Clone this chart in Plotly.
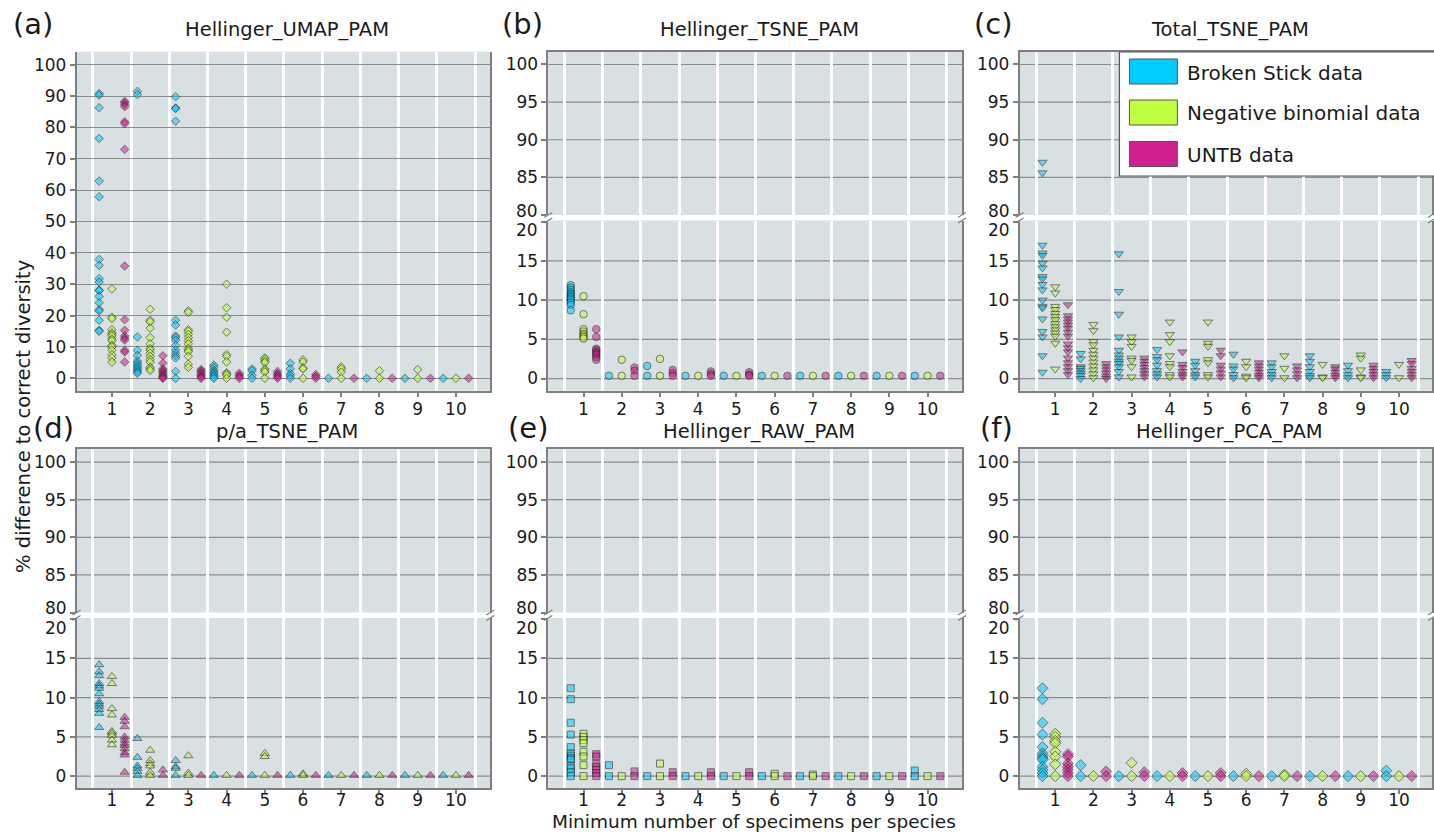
import plotly.graph_objects as go

# ---------------- data ----------------
categories = [1, 2, 3, 4, 5, 6, 7, 8, 9, 10]
series_names = ["Broken Stick data", "Negative binomial data", "UNTB data"]
series_colors = ["#00CCFF", "#BFFF3F", "#D02090"]
panel_titles = ["Hellinger_UMAP_PAM", "Hellinger_TSNE_PAM", "Total_TSNE_PAM",
                "p/a_TSNE_PAM", "Hellinger_RAW_PAM", "Hellinger_PCA_PAM"]
panel_tags = ["(a)", "(b)", "(c)", "(d)", "(e)", "(f)"]
ticks_full = [0, 10, 20, 30, 40, 50, 60, 70, 80, 90, 100]
ticks_upper = [80, 85, 90, 95, 100]
ticks_lower = [0, 5, 10, 15, 20]
grid_upper = [85, 90, 95, 100]
grid_lower = [0, 5, 10, 15]
x_title = "Minimum number of specimens per species"
y_title = "% difference to correct diversity"

# (a) Hellinger_UMAP_PAM
umap_bs = [[90.8, 90.3, 86.3, 76.5, 62.9, 57.9, 37.9, 36.0, 31.8, 30.7, 28.1, 28.0, 26.1, 24.1, 21.9, 21.5, 18.5, 15.3, 15.0],
           [91.5, 90.5, 13.2, 8.9, 7.3, 5.5, 4.8, 4.2, 3.6, 3.0, 2.5, 2.0, 1.6],
           [89.8, 86.2, 86.0, 82.0, 18.5, 17.0, 13.5, 13.0, 12.2, 10.5, 9.0, 8.0, 7.2, 6.5, 2.2, 0.0],
           [4.2, 3.5, 2.6, 2.0, 1.5, 1.0, 0.5, 0.0],
           [3.0, 2.4, 1.0, 0.0],
           [4.8, 3.0, 1.5, 0.8, 0.0],
           [0.0], [0.0], [0.0], [0.0]]
umap_nb = [[28.5, 19.5, 19.0, 15.5, 14.5, 14.0, 13.5, 12.5, 12.0, 10.5, 10.0, 9.0, 7.5, 6.5, 5.2],
           [22.0, 18.5, 18.0, 16.0, 13.0, 11.0, 9.5, 9.0, 8.0, 7.0, 6.0, 5.2, 3.5, 3.0, 2.5],
           [21.5, 21.0, 15.5, 15.0, 14.0, 13.0, 12.0, 11.0, 9.5, 9.0, 8.5, 7.0, 4.5, 3.5],
           [30.0, 22.5, 19.5, 14.7, 7.6, 7.0, 5.2, 1.8, 1.4, 1.0, 0.0],
           [6.5, 6.0, 5.4, 5.0, 3.0, 2.5, 2.0, 0.0],
           [5.9, 5.2, 3.3, 3.0, 0.0],
           [3.6, 3.0, 2.0, 0.0],
           [2.4, 0.0],
           [2.8, 0.0],
           [0.0]]
umap_untb = [[88.3, 87.8, 87.2, 86.6, 81.8, 81.2, 73.0, 35.8, 18.7, 15.3, 13.5, 12.8, 12.2, 8.9, 8.4, 5.2],
             [7.2, 4.8, 3.0, 2.5, 2.0, 1.5, 1.0, 0.6, 0.2, 0.0],
             [2.8, 2.3, 1.8, 1.3, 0.8, 0.4, 0.0],
             [1.6, 1.0, 0.5, 0.0],
             [2.2, 1.5, 1.0, 0.5, 0.0],
             [1.2, 0.6, 0.0],
             [0.0], [0.0], [0.0], [0.0]]

# (b) Hellinger_TSNE_PAM
tsne_bs = [[11.9, 11.6, 11.3, 11.0, 10.8, 10.6, 10.4, 10.2, 10.0, 9.7, 9.4, 8.7],
           [0.35], [1.6, 0.35], [0.35], [0.35], [0.35], [0.35], [0.35], [0.35], [0.35]]
tsne_nb = [[10.5, 8.2, 6.3, 6.0, 5.7, 5.5, 5.3, 5.1],
           [2.4, 0.35], [2.5, 0.35], [0.35], [0.35], [0.35], [0.35], [0.35], [0.35], [0.35]]
tsne_untb = [[6.3, 5.3, 3.8, 3.6, 3.4, 3.2, 3.0, 2.7, 2.4],
             [1.4, 1.0, 0.35], [1.1, 0.7, 0.35], [0.9, 0.6, 0.35], [0.8, 0.5, 0.35],
             [0.35], [0.35], [0.35], [0.35], [0.35]]

# (c) Total_TSNE_PAM
total_bs = [[87.0, 85.6, 17.0, 16.0, 15.7, 14.7, 14.1, 13.0, 12.7, 12.0, 11.3, 10.0, 9.2, 9.0, 7.6, 6.0, 5.3, 2.9, 0.8],
            [3.2, 2.5, 1.5, 1.3, 1.0, 0.7, 0.4, 0.0],
            [15.9, 11.1, 8.2, 5.3, 3.6, 3.0, 2.6, 2.2, 1.9, 1.5, 0.9, 0.2],
            [3.7, 2.8, 2.4, 1.7, 1.0, 0.6, 0.2],
            [2.2, 1.7, 1.0, 0.5, 0.2],
            [3.1, 1.6, 1.2, 0.5, 0.1],
            [2.0, 1.5, 0.9, 0.5, 0.1],
            [2.9, 2.2, 1.5, 0.9, 0.4, 0.1],
            [1.7, 1.0, 0.5, 0.1],
            [0.9, 0.5, 0.1]]
total_nb = [[11.7, 10.9, 9.2, 8.8, 8.3, 7.9, 7.5, 7.0, 6.6, 6.2, 5.8, 5.4, 4.5, 1.2],
            [6.9, 6.1, 4.7, 4.3, 3.6, 3.1, 2.6, 2.1, 1.6, 1.1, 0.6, 0.1],
            [5.3, 4.7, 4.1, 2.6, 2.3, 1.5, 0.2],
            [7.2, 5.6, 4.7, 2.9, 1.9, 1.5, 0.5, 0.2],
            [7.2, 4.5, 4.1, 2.4, 2.0, 0.5, 0.2],
            [2.2, 1.5, 0.3, 0.1],
            [2.9, 1.3, 0.1],
            [1.8, 0.2, 0.1],
            [3.0, 2.6, 1.1, 0.2, 0.1],
            [1.8, 0.1]]
total_untb = [[9.4, 8.0, 7.6, 7.2, 6.8, 6.4, 5.9, 5.4, 4.4, 3.9, 3.4, 2.6, 2.0, 1.5, 1.0, 0.5],
              [1.9, 1.5, 1.1, 0.7, 0.3, 0.0],
              [2.6, 2.2, 1.8, 1.4, 1.0, 0.6, 0.2],
              [3.4, 1.8, 1.4, 0.9, 0.5, 0.2],
              [3.6, 2.9, 1.7, 1.2, 0.7, 0.2],
              [2.0, 1.6, 1.2, 0.8, 0.4, 0.1],
              [1.6, 1.1, 0.6, 0.1],
              [1.5, 1.2, 0.8, 0.4, 0.1],
              [1.7, 1.3, 0.9, 0.5, 0.1],
              [2.3, 1.9, 1.3, 0.9, 0.5, 0.1]]

# (d) p/a_TSNE_PAM
pa_bs = [[14.2, 13.3, 12.8, 11.8, 11.5, 11.2, 10.5, 9.5, 9.2, 8.9, 8.5, 8.0, 6.2],
         [4.8, 2.4, 1.3, 1.0, 0.6, 0.1], [2.0, 1.2, 1.0, 0.1],
         [0.1], [0.1], [0.1], [0.1], [0.1], [0.1], [0.1]]
pa_nb = [[12.7, 11.8, 8.6, 7.8, 5.7, 5.5, 5.2, 4.6, 4.0],
         [3.3, 2.0, 1.6, 1.3, 0.5, 0.1], [2.6, 0.4, 0.1], [0.1], [2.9, 2.5, 0.1],
         [0.3, 0.1], [0.1], [0.1], [0.1], [0.1]]
pa_untb = [[7.5, 7.0, 6.3, 5.0, 4.6, 4.2, 3.9, 3.5, 3.0, 2.7, 0.5],
           [0.8, 0.1], [0.1], [0.1], [0.1], [0.1], [0.1], [0.1], [0.1], [0.1]]

# (e) Hellinger_RAW_PAM
raw_bs = [[11.2, 9.8, 6.8, 5.3, 3.7, 2.9, 2.6, 2.3, 2.1, 1.3, 1.0, 0.5, 0.0],
          [1.4, 0.0], [0.0], [0.0], [0.0], [0.0], [0.0], [0.0], [0.0], [0.7, 0.0]]
raw_nb = [[5.4, 5.0, 4.6, 4.2, 3.1, 2.5, 1.4, 0.0],
          [0.0], [1.6, 0.0], [0.0], [0.0], [0.3, 0.0], [0.2, 0.0], [0.0], [0.0], [0.0]]
raw_untb = [[2.8, 2.5, 1.6, 1.2, 0.8, 0.4, 0.0],
            [0.6, 0.0], [0.5, 0.0], [0.5, 0.0], [0.5, 0.0], [0.0], [0.0], [0.0], [0.0], [0.0]]

# (f) Hellinger_PCA_PAM
pca_bs = [[11.2, 9.8, 6.8, 5.3, 3.7, 2.9, 2.6, 2.3, 2.1, 1.2, 0.8, 0.4, 0.0],
          [1.4, 0.0], [0.0], [0.0], [0.0], [0.0], [0.0], [0.0], [0.0], [0.7, 0.0]]
pca_nb = [[5.4, 5.0, 4.5, 4.2, 3.1, 2.5, 1.5, 0.0],
          [0.0], [1.7, 0.0], [0.0], [0.0], [0.3, 0.0], [0.2, 0.0], [0.0], [0.0], [0.0]]
pca_untb = [[2.8, 2.5, 1.6, 1.2, 0.8, 0.4, 0.0],
            [0.6, 0.0], [0.5, 0.0], [0.4, 0.0], [0.4, 0.0], [0.0], [0.0], [0.0], [0.0], [0.0]]

# ---------------- styling / geometry ----------------
panels = [(umap_bs, umap_nb, umap_untb), (tsne_bs, tsne_nb, tsne_untb),
          (total_bs, total_nb, total_untb), (pa_bs, pa_nb, pa_untb),
          (raw_bs, raw_nb, raw_untb), (pca_bs, pca_nb, pca_untb)]
symbols = ["diamond", "circle", "triangle-down", "triangle-up", "square", "diamond"]
sizes = [6.5, 7.5, 8, 8, 7, 8.5]
offsets = [-1 / 3, 0, 1 / 3]

W, H = 1434, 832
FONT = "DejaVu Sans"
AX = "#7F7F7F"
GRID = "#8C8C8C"
TXT = "#1A1A1A"
BG = "#D9E0E2"
TICK_SIZE = 17

col_px = [(76.7, 491.0), (549.0, 963.3), (1021.0, 1434.0)]
col_rng = [(0.076, 10.9), (0.077, 10.9), (0.067, 10.865)]
rows_px = [dict(top=51.7, ub=215.0, lt=220.5, bot=390.7, ticklen=5, standoff=-3),
           dict(top=449.3, ub=612.5, lt=618.0, bot=788.3, ticklen=4, standoff=-8)]
RANGE_FULL = [-3.95, 104.15]
RANGE_UP = [80.0, 101.7]
RANGE_LO = [-1.55, 20.15]


def pxx(x):
    return x / W


def pyy(y):
    return 1 - y / H


def ydom(top, bot):
    return [max(0.0, pyy(bot)), min(1.0, pyy(top))]


def ax_name(kind, k):
    return f"{kind}axis" if k == 1 else f"{kind}axis{k}"


def ref(kind, k):
    return kind if k == 1 else f"{kind}{k}"


fig = go.Figure()
layout = {}
shapes = []
annotations = []

sep_vals = [c - 0.5 for c in categories] + [categories[-1] + 0.5]


def x_axis(col, anchor_k, R, upper=False):
    d = dict(domain=[pxx(col_px[col][0]), min(1.0, pxx(col_px[col][1]))],
             range=list(col_rng[col]), anchor=ref("y", anchor_k),
             showgrid=False, zeroline=False, showline=True, linecolor=AX, linewidth=1.5,
             minor=dict(tickmode="array", tickvals=sep_vals, showgrid=True,
                        gridcolor="white", gridwidth=3, ticks=""),
             fixedrange=True)
    if upper:
        d.update(side="top", showticklabels=False, ticks="", tickmode="array", tickvals=categories)
    else:
        d.update(tickmode="array", tickvals=categories, ticktext=[str(c) for c in categories],
                 ticks="outside", ticklen=R["ticklen"], tickwidth=1.5, tickcolor=AX,
                 ticklabelstandoff=R["standoff"],
                 tickfont=dict(family=FONT, size=TICK_SIZE, color=TXT))
    return d


def y_axis(k, dom, rng, tickvals, ticktext, grid):
    return dict(domain=dom, range=rng, anchor=ref("x", k), tickmode="array", tickvals=tickvals,
                ticktext=ticktext, showgrid=grid, gridcolor=GRID, gridwidth=1.2,
                zeroline=False, showline=True, mirror=True, linecolor=AX, linewidth=1.5,
                ticks="outside", ticklen=5, tickwidth=1.5, tickcolor=AX,
                tickfont=dict(family=FONT, size=TICK_SIZE, color=TXT), fixedrange=True)


def add_points(p, s, vals, k, keep):
    xs, ys = [], []
    for cat, group in zip(categories, vals):
        for v in group:
            if keep(v):
                xs.append(cat + offsets[s])
                ys.append(v)
    if not xs:
        return
    fig.add_trace(go.Scatter(
        x=xs, y=ys, mode="markers", name=series_names[s], showlegend=False,
        xaxis=ref("x", k), yaxis=ref("y", k), cliponaxis=True,
        marker=dict(symbol=symbols[p], size=sizes[p], color=series_colors[s], opacity=0.55,
                    line=dict(color="#1A1A1A", width=1)),
        hoverinfo="x+y"))


def label(text, x, y, size, anchor="center", angle=0):
    annotations.append(dict(text=text, x=pxx(x), y=pyy(y), xref="paper", yref="paper",
                            showarrow=False, xanchor=anchor, yanchor="middle", textangle=angle,
                            font=dict(family=FONT, size=size, color=TXT)))


for p in range(6):
    row, col = divmod(p, 3)
    R = rows_px[row]
    if p == 0:
        k = 1
        layout[ax_name("x", k)] = x_axis(col, k, R)
        layout[ax_name("y", k)] = y_axis(k, ydom(R["top"], R["bot"]), RANGE_FULL, ticks_full,
                                         [str(v) for v in ticks_full], True)
        for s in range(3):
            add_points(p, s, panels[p][s], k, lambda v: True)
    else:
        klo, kup = 2 * p, 2 * p + 1
        # the break-edge labels (80 and 20) are written separately so they do not collide
        lo_text = [str(v) if v != ticks_lower[-1] else "" for v in ticks_lower]
        up_text = [str(v) if v != ticks_upper[0] else "" for v in ticks_upper]
        layout[ax_name("x", klo)] = x_axis(col, klo, R)
        layout[ax_name("y", klo)] = y_axis(klo, ydom(R["lt"], R["bot"]), RANGE_LO, ticks_lower, lo_text, False)
        layout[ax_name("x", kup)] = x_axis(col, kup, R, upper=True)
        layout[ax_name("y", kup)] = y_axis(kup, ydom(R["top"], R["ub"]), RANGE_UP, ticks_upper, up_text, False)
        label(str(ticks_upper[0]), col_px[col][0] - 8, R["ub"] - 4.5, TICK_SIZE, anchor="right")
        label(str(ticks_lower[-1]), col_px[col][0] - 8, R["lt"] + 9.5, TICK_SIZE, anchor="right")
        for s in range(3):
            add_points(p, s, panels[p][s], klo, lambda v: v < 50)
            add_points(p, s, panels[p][s], kup, lambda v: v >= 50)
        # horizontal grid lines
        for v in grid_lower:
            shapes.append(dict(type="line", xref=f"{ref('x', klo)} domain", yref=ref("y", klo),
                               x0=0, x1=1, y0=v, y1=v, layer="below",
                               line=dict(color=GRID, width=1.2)))
        for v in grid_upper:
            shapes.append(dict(type="line", xref=f"{ref('x', kup)} domain", yref=ref("y", kup),
                               x0=0, x1=1, y0=v, y1=v, layer="below",
                               line=dict(color=GRID, width=1.2)))
        # break marks
        for xe in col_px[col]:
            for ye in (R["ub"], R["lt"]):
                shapes.append(dict(type="line", xref="paper", yref="paper",
                                   x0=pxx(xe - 4), y0=pyy(ye + 2.5), x1=pxx(xe + 4), y1=pyy(ye - 2.5),
                                   line=dict(color=AX, width=1.2)))
    # panel title
    cx = (col_px[col][0] + col_px[col][1]) / 2 + 4
    ty = 30 if row == 0 else 431
    label(panel_titles[p], cx, ty, 19.5)

tag_pos = [(33, 24), (523, 24), (995, 24), (54, 428), (529, 428), (998, 428)]
for t, (tx, ty) in zip(panel_tags, tag_pos):
    label(t, tx, ty, 29)

label(x_title, 755, 821.3, 18.5)
label(y_title, 23, 416, 19.5, angle=-90)

# legend (drawn as a box with colour keys)
shapes.append(dict(type="rect", xref="paper", yref="paper", layer="above",
                   x0=pxx(1121), x1=pxx(1440), y0=pyy(176), y1=pyy(52),
                   fillcolor="white", line=dict(color="#555555", width=1.2)))
key_y = [71.5, 112.5, 154.0]
for s in range(3):
    yc = key_y[s]
    shapes.append(dict(type="rect", xref="paper", yref="paper", layer="above",
                       x0=pxx(1131), x1=pxx(1179), y0=pyy(yc + 12.5), y1=pyy(yc - 12.5),
                       fillcolor=series_colors[s], line=dict(color="#555555", width=1)))
    label(series_names[s], 1187, yc + 1, 20, anchor="left")

fig.update_layout(width=W, height=H, margin=dict(l=0, r=0, t=0, b=0),
                  paper_bgcolor="white", plot_bgcolor=BG, showlegend=False,
                  font=dict(family=FONT, color=TXT), shapes=shapes, annotations=annotations,
                  **layout)

fig.write_html("out.html")
